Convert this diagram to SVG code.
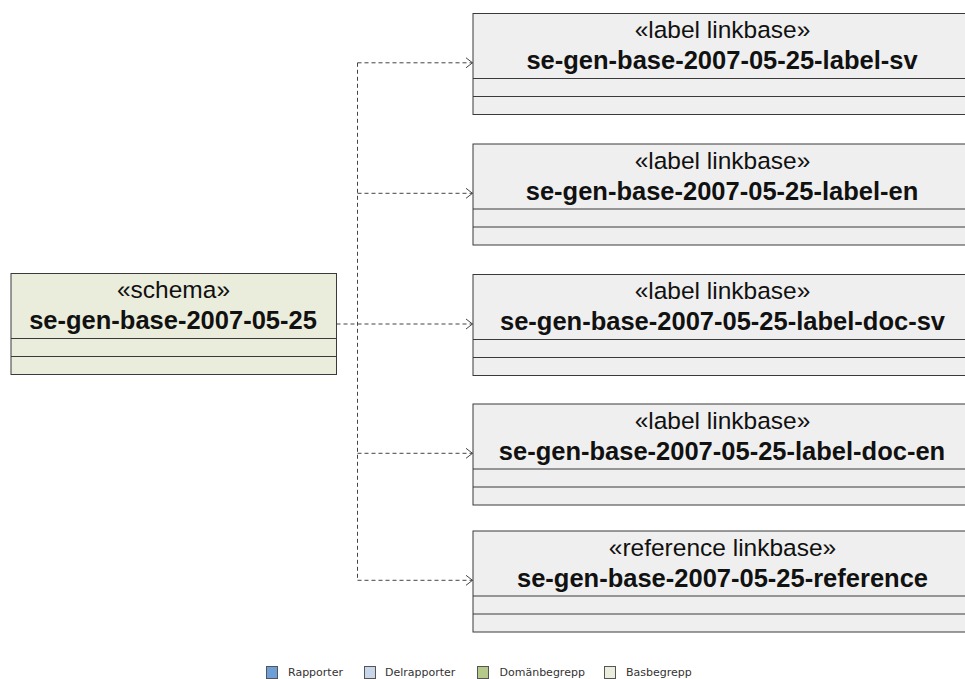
<svg xmlns="http://www.w3.org/2000/svg" width="965" height="679" viewBox="0 0 965 679">
<style>
.box{stroke:#3a3a3a;stroke-width:1}
.base{fill:#EAEDDC}
.link{fill:#EFEFEF}
.sep{stroke:#3a3a3a;stroke-width:1}
.st{font-family:"Liberation Sans",Arial,sans-serif;font-size:24.5px;fill:#111;text-anchor:middle}
.nm{font-family:"Liberation Sans",Arial,sans-serif;font-size:25.5px;font-weight:bold;fill:#111;text-anchor:middle}
.con{fill:none;stroke:#444;stroke-width:1;stroke-dasharray:4 3}
.lg{font-family:"DejaVu Sans",Verdana,sans-serif;font-size:11px;fill:#333}
.sq{stroke:#555;stroke-width:1}
</style>
<defs>
<marker id="open" markerWidth="10" markerHeight="12" refX="8" refY="6" orient="auto" markerUnits="userSpaceOnUse">
<path d="M1.5,1 L8,6 L1.5,11" fill="none" stroke="#444" stroke-width="1"/>
</marker>
</defs>
<rect width="965" height="679" fill="#fff"/>
<g id="connectors">
<path class="con" d="M336.5,324 H472.5" marker-end="url(#open)"/>
<path class="con" d="M357.5,62.8 V580.3"/>
<path class="con" d="M357.5,62.8 H472.5" marker-end="url(#open)"/>
<path class="con" d="M357.5,193.3 H472.5" marker-end="url(#open)"/>
<path class="con" d="M357.5,453.3 H472.5" marker-end="url(#open)"/>
<path class="con" d="M357.5,580.3 H472.5" marker-end="url(#open)"/>
</g>
<g id="schema">
<rect class="box base" x="11" y="273.5" width="325.5" height="101"/>
<line class="sep" x1="11" y1="338.5" x2="336.5" y2="338.5"/>
<line class="sep" x1="11" y1="356.5" x2="336.5" y2="356.5"/>
<text class="st" x="173.5" y="298">«schema»</text>
<text class="nm" x="173" y="329">se-gen-base-2007-05-25</text>
</g>
<g id="label-sv">
<rect class="box link" x="473" y="13.5" width="499" height="101"/>
<line class="sep" x1="473" y1="78.5" x2="972" y2="78.5"/>
<line class="sep" x1="473" y1="96.5" x2="972" y2="96.5"/>
<text class="st" x="722.5" y="38">«label linkbase»</text>
<text class="nm" x="722" y="69">se-gen-base-2007-05-25-label-sv</text>
</g>
<g id="label-en">
<rect class="box link" x="473" y="144" width="499" height="101"/>
<line class="sep" x1="473" y1="209" x2="972" y2="209"/>
<line class="sep" x1="473" y1="227" x2="972" y2="227"/>
<text class="st" x="722.5" y="168.5">«label linkbase»</text>
<text class="nm" x="722" y="199.5">se-gen-base-2007-05-25-label-en</text>
</g>
<g id="label-doc-sv">
<rect class="box link" x="473" y="274.5" width="499" height="101"/>
<line class="sep" x1="473" y1="339.5" x2="972" y2="339.5"/>
<line class="sep" x1="473" y1="357.5" x2="972" y2="357.5"/>
<text class="st" x="722.5" y="299">«label linkbase»</text>
<text class="nm" x="722.5" y="330">se-gen-base-2007-05-25-label-doc-sv</text>
</g>
<g id="label-doc-en">
<rect class="box link" x="473" y="404" width="499" height="101"/>
<line class="sep" x1="473" y1="469" x2="972" y2="469"/>
<line class="sep" x1="473" y1="487" x2="972" y2="487"/>
<text class="st" x="722.5" y="428.5">«label linkbase»</text>
<text class="nm" x="722" y="459.5">se-gen-base-2007-05-25-label-doc-en</text>
</g>
<g id="reference">
<rect class="box link" x="473" y="531" width="499" height="101"/>
<line class="sep" x1="473" y1="596" x2="972" y2="596"/>
<line class="sep" x1="473" y1="614" x2="972" y2="614"/>
<text class="st" x="722.5" y="555.5">«reference linkbase»</text>
<text class="nm" x="722.5" y="586.5">se-gen-base-2007-05-25-reference</text>
</g>
<g id="legend">
<rect class="sq" x="266.5" y="666.5" width="11" height="12" fill="#6F9FD8"/>
<text class="lg" x="288" y="676">Rapporter</text>
<rect class="sq" x="364.5" y="666.5" width="11" height="12" fill="#C7D6E9"/>
<text class="lg" x="385" y="676">Delrapporter</text>
<rect class="sq" x="477.5" y="666.5" width="11" height="12" fill="#B5C98A"/>
<text class="lg" x="499.5" y="676">Domänbegrepp</text>
<rect class="sq" x="604.5" y="666.5" width="11" height="12" fill="#EAEDDC"/>
<text class="lg" x="626" y="676">Basbegrepp</text>
</g>
</svg>
